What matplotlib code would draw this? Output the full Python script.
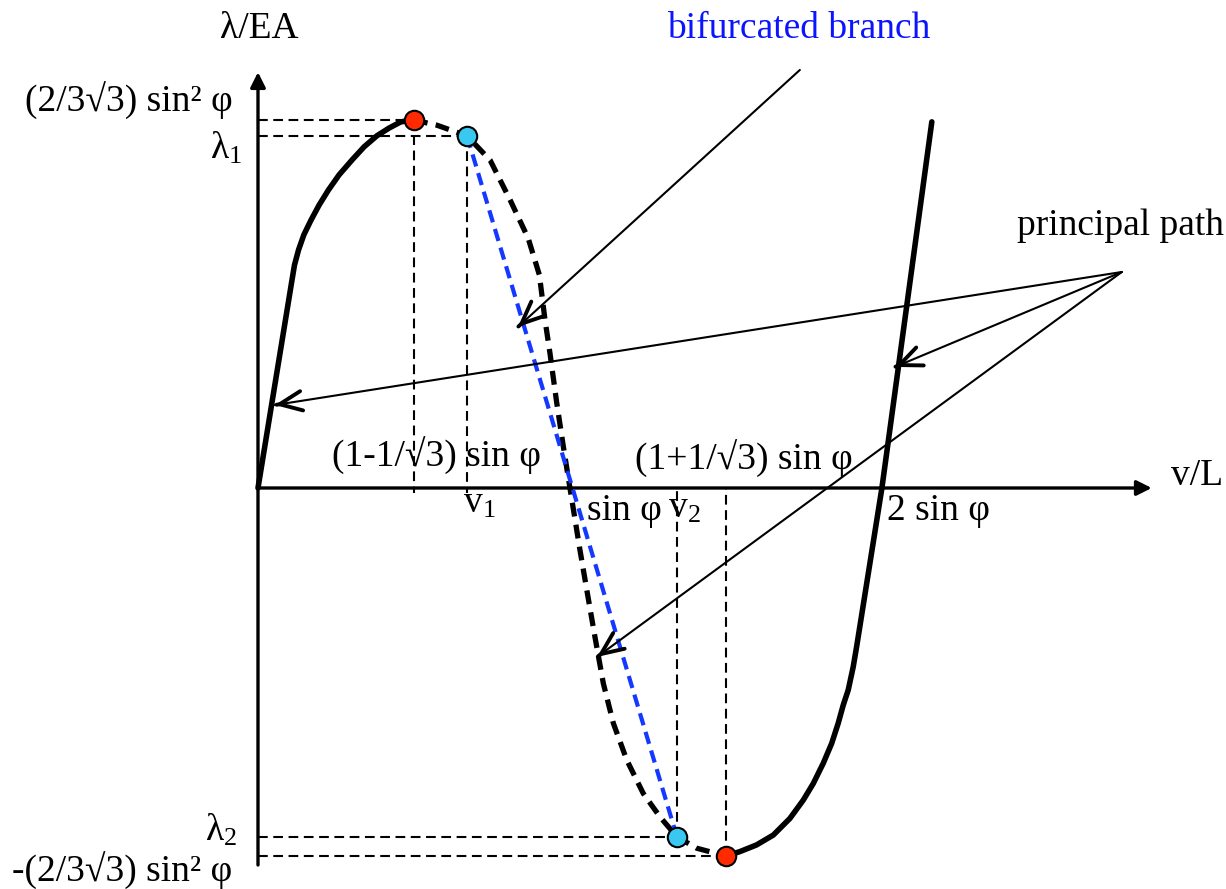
import matplotlib
matplotlib.use('Agg')
import matplotlib.pyplot as plt

plt.rcParams['font.family'] = ['Liberation Serif', 'DejaVu Serif']
plt.rcParams['mathtext.fontset'] = 'custom'
plt.rcParams['mathtext.rm'] = 'Liberation Serif'
plt.rcParams['lines.scale_dashes'] = False

# v/L in units of sin(phi), lambda/EA in units of (2/3sqrt3) sin^2(phi)
# principal path, rising part up to the first limit point
v_rise = [0.0, 0.108, 0.117, 0.130, 0.147, 0.170, 0.196, 0.226, 0.260, 0.301,
          0.340, 0.381, 0.420, 0.458, 0.5]
lam_rise = [0.0, 0.560, 0.606, 0.647, 0.688, 0.728, 0.769, 0.810, 0.851, 0.891,
            0.927, 0.957, 0.978, 0.995, 1.0]

# unstable part between the two limit points
v_unstable = [0.5, 0.573, 0.67, 0.744, 0.808, 0.866, 0.902, 0.920, 0.936, 0.957, 0.978, 1.0,
              1.032, 1.054, 1.080, 1.107, 1.139, 1.182, 1.235, 1.288, 1.343, 1.407, 1.5]
lam_unstable = [1.0, 0.986, 0.957, 0.891, 0.783, 0.679, 0.579, 0.457, 0.366, 0.235, 0.117, 0.0,
                -0.168, -0.277, -0.404, -0.531, -0.639, -0.739, -0.830, -0.893, -0.948, -0.979, -1.0]

# principal path after the second limit point
v_after = [1.5, 1.545, 1.598, 1.652, 1.705, 1.748, 1.780, 1.812, 1.839, 1.860,
           1.876, 1.892, 1.908, 1.919, 2.0, 2.160]
lam_after = [-1.0, -0.988, -0.970, -0.943, -0.898, -0.848, -0.803, -0.748, -0.694, -0.639,
             -0.590, -0.549, -0.486, -0.431, 0.0, 0.995]

# limit points and bifurcation points
v_limit = [0.5, 1.5]
lam_limit = [1.0, -1.0]
v_bif = [0.67, 1.343]
lam_bif = [0.957, -0.948]

fig = plt.figure(figsize=(12.26, 8.89), dpi=100)
ax = fig.add_axes([0, 0, 1, 1])
ax.set_xlim(-0.827, 3.103)
ax.set_ylim(-1.0897, 1.3261)
ax.axis('off')

# axes with arrow heads
axis_style = dict(arrowstyle='-|>,head_length=0.9,head_width=0.45', lw=2.4, color='k',
                  shrinkA=0, shrinkB=0, mutation_scale=10)
ax.annotate('', xy=(2.865, 0), xytext=(0, 0), arrowprops=axis_style)
ax.annotate('', xy=(0, 1.130), xytext=(0, -1.0245), arrowprops=axis_style)

# dashed guide lines to the special points
for v, lam in zip(v_limit + v_bif, lam_limit + lam_bif):
    ax.plot([0, v], [lam, lam], color='k', lw=1.5, dashes=(7, 4), zorder=1)
    end = -0.014 if lam > 0 else 0
    ax.plot([v, v], [lam, end], color='k', lw=1.5, dashes=(7, 4), zorder=1)

# equilibrium paths
ax.plot(v_rise, lam_rise, color='k', lw=4.0, solid_capstyle='round',
        solid_joinstyle='round', zorder=2)
ax.plot(v_after, lam_after, color='k', lw=4.0, solid_capstyle='round',
        solid_joinstyle='round', zorder=2)
ax.plot(v_unstable, lam_unstable, color='k', lw=3.8, dashes=(10, 6), zorder=2)
ax.plot(v_bif, lam_bif, color='#1438ff', lw=3.0, dashes=(9, 5), zorder=3)


def pointer(tail, tip):
    ax.annotate('', xy=tip, xytext=tail,
                arrowprops=dict(arrowstyle='-', lw=1.5, color='k', shrinkA=0, shrinkB=0),
                zorder=4)
    near = (tip[0] + 0.002 * (tail[0] - tip[0]), tip[1] + 0.002 * (tail[1] - tip[1]))
    ax.annotate('', xy=tip, xytext=near,
                arrowprops=dict(arrowstyle='->,head_length=1.6,head_width=0.7', lw=2.8,
                                color='k', shrinkA=0, shrinkB=0, mutation_scale=10,
                                capstyle='round', joinstyle='round'),
                zorder=4)


pointer((1.737, 1.136), (0.833, 0.4375))
for tip in [(0.054, 0.2255), (2.042, 0.329), (1.087, -0.459)]:
    pointer((2.769, 0.587), tip)

ax.plot(v_limit, lam_limit, 'o', ms=14, mfc='#ff2a00', mec='k', mew=1.5, zorder=5)
ax.plot(v_bif, lam_bif, 'o', ms=14, mfc='#38c8f0', mec='k', mew=1.5, zorder=5)

fs = 27
ax.text(-0.122, 1.222, 'λ/EA', fontsize=fs, ha='left', va='baseline')
ax.text(3.095, 0.008, 'v/L', fontsize=fs, ha='right', va='baseline')
ax.text(2.154, 1.223, 'bifurcated branch', fontsize=fs, color='#0a14ff', ha='right', va='baseline')
ax.text(3.095, 0.6875, 'principal path', fontsize=fs, ha='right', va='baseline')

ax.text(-0.080, 1.0226, '(2/3√3) sin² φ', fontsize=fs, ha='right', va='baseline')
ax.text(-0.051, 0.896, r'$\mathrm{λ_1}$', fontsize=fs, ha='right', va='baseline')
ax.text(-0.067, -0.957, r'$\mathrm{λ_2}$', fontsize=fs, ha='right', va='baseline')
ax.text(-0.083, -1.071, '-(2/3√3) sin² φ', fontsize=fs, ha='right', va='baseline')

ax.text(0.237, 0.057, '(1-1/√3) sin φ', fontsize=fs, ha='left', va='baseline')
ax.text(1.208, 0.049, '(1+1/√3) sin φ', fontsize=fs, ha='left', va='baseline')
ax.text(0.657, -0.068, r'$\mathrm{v_1}$', fontsize=fs, ha='left', va='baseline')
ax.text(1.054, -0.087, 'sin φ', fontsize=fs, ha='left', va='baseline')
ax.text(1.314, -0.080, r'$\mathrm{v_2}$', fontsize=fs, ha='left', va='baseline')
ax.text(2.016, -0.087, '2 sin φ', fontsize=fs, ha='left', va='baseline')

fig.savefig('out.png', dpi=100)
